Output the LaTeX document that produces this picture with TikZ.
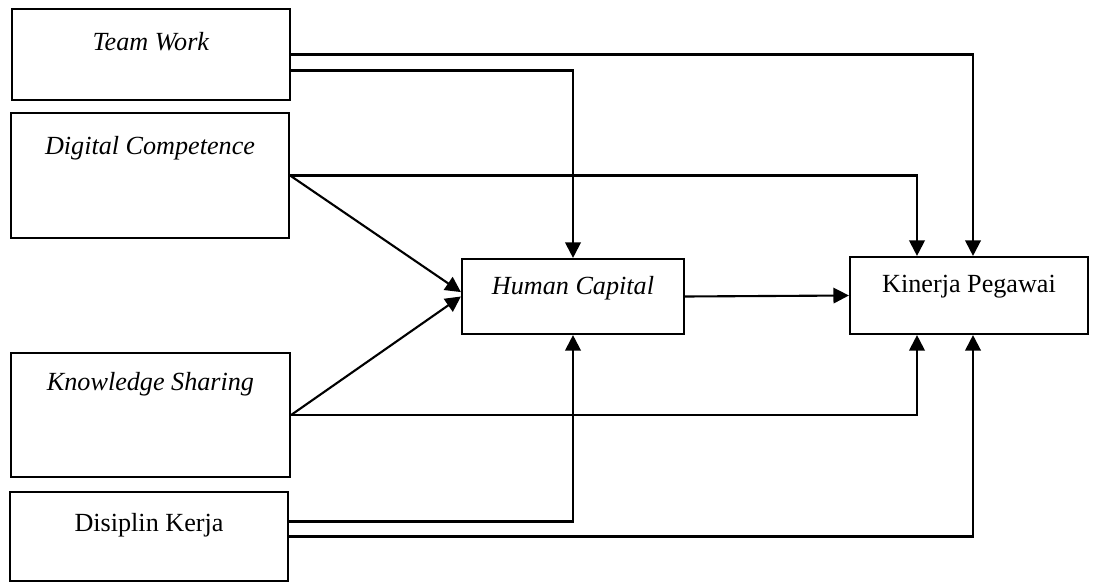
\documentclass[tikz,border=0pt]{standalone}
\usepackage{fontspec}
\setmainfont{Liberation Serif}
\usepackage{tikz}
\usetikzlibrary{arrows.meta}

\begin{document}
\begin{tikzpicture}[x=0.025cm, y=-0.025cm,
  box/.style={draw, line width=1.5pt, inner xsep=0pt, inner ysep=0pt,
    font=\fontsize{18.6}{22}\selectfont},
  arr/.style={line width=1.5pt, -{Triangle[length=11pt,width=11pt]}}]

 \useasboundingbox (0,0) rectangle (1095,583);

% Left column of boxes
 \node[box, minimum width=6.95cm, text height=1.05cm, text depth=1.225cm] (tw) at (151,54.5) {\textit{Team Work}};
 \node[box, minimum width=6.95cm, text height=1.04cm, text depth=2.085cm] (dc) at (150,175.5) {\textit{Digital Competence}};
 \node[box, minimum width=6.975cm, text height=0.94cm, text depth=2.16cm] (ks) at (150.5,415) {\textit{Knowledge Sharing}};
 \node[box, minimum width=6.95cm, text height=0.99cm, text depth=1.235cm] (dk) at (149,536.5) {Disiplin Kerja};

% Mediator and outcome
 \node[box, minimum width=5.55cm, text height=0.89cm, text depth=0.985cm] (hc) at (573,296.5) {\textit{Human Capital}};
 \node[box, minimum width=5.95cm, text height=0.89cm, text depth=1.035cm] (kp) at (969,295.5) {Kinerja Pegawai};

% Paths into Human Capital
 \draw[arr] ([yshift=-0.4cm]tw.east) -| (hc.north);
 \draw[arr] (dc.east) -- ([yshift=0.11cm]hc.west);
 \draw[arr] (ks.east) -- (hc.west);
 \draw[arr] ([yshift=0.375cm]dk.east) -| (hc.south);

% Paths into Kinerja Pegawai
 \draw[arr] (tw.east) -| ([xshift=0.1cm]kp.north);
 \draw[arr] (dc.east) -| ([xshift=-1.3cm]kp.north);
 \draw[arr] (ks.east) -| ([xshift=-1.3cm]kp.south);
 \draw[arr] (dk.east) -| ([xshift=0.1cm]kp.south);
 \draw[arr] (hc.east) -- (kp.west); % mediator to outcome

\end{tikzpicture}
\end{document}
